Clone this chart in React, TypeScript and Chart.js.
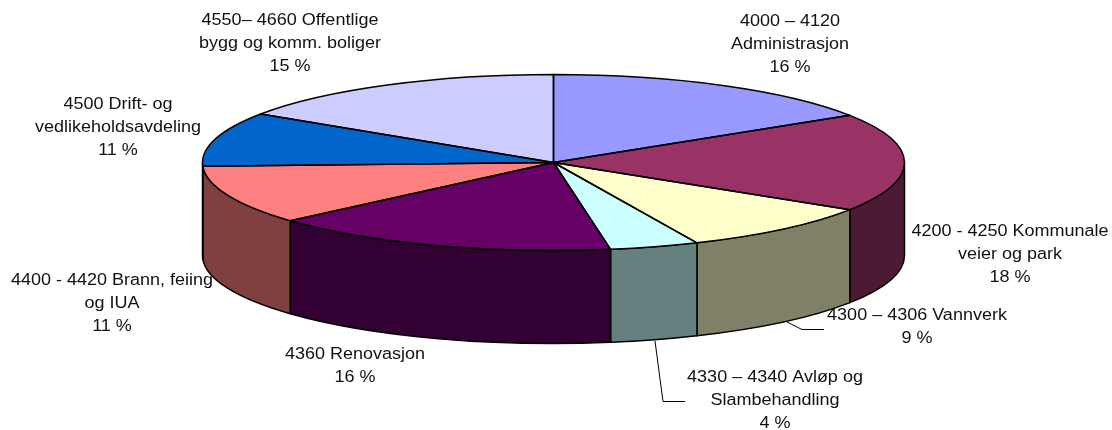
import React, { useEffect, useRef } from "react";
import { Chart, registerables } from "chart.js";

Chart.register(...registerables);

const categories = [
  "4000 – 4120 Administrasjon",
  "4200 - 4250 Kommunale veier og park",
  "4300 – 4306 Vannverk",
  "4330 – 4340 Avløp og Slambehandling",
  "4360 Renovasjon",
  "4400 - 4420 Brann, feiing og IUA",
  "4500 Drift- og vedlikeholdsavdeling",
  "4550– 4660 Offentlige bygg og komm. boliger",
];
const values = [16, 18, 9.3, 4.1, 16.1, 10.8, 10, 15.7];
const topColors = ["#9999FF", "#993366", "#FFFFCC", "#CCFFFF", "#660066", "#FF8080", "#0066CC", "#CCCCFF"];
const wallColors = ["#4D4D80", "#4D1A33", "#808066", "#668080", "#330033", "#804040", "#003366", "#666680"];
const labelLines = [
  ["4000 – 4120", "Administrasjon", "16 %"],
  ["4200 - 4250 Kommunale", "veier og park", "18 %"],
  ["4300 – 4306 Vannverk", "9 %"],
  ["4330 – 4340 Avløp og", "Slambehandling", "4 %"],
  ["4360 Renovasjon", "16 %"],
  ["4400 - 4420 Brann, feiing", "og IUA", "11 %"],
  ["4500 Drift- og", "vedlikeholdsavdeling", "11 %"],
  ["4550– 4660 Offentlige", "bygg og komm. boliger", "15 %"],
];
const labelCenterX = [790, 1010, 917, 775, 355, 112, 118, 290];
const labelFirstY = [22, 232, 316, 378, 355, 281, 105, 21];
const leaders = [
  [[787, 322], [802, 329.5], [824, 329.5]],
  [[655, 341], [663, 401.5], [685, 401.5]],
];

const CX = 553.5;
const CY = 162.5;
const RX = 351;
const RY = 88;
const DEPTH = 93;
const LINE_HEIGHT = 23;
const TEXT_STRETCH = 1.125;

const pie3d = {
  id: "pie3d",
  beforeDatasetsDraw(chart: any) {
    const ctx = chart.ctx;
    const arcs = chart.getDatasetMeta(0).data;
    arcs.forEach((arc: any, i: number) => {
      const a0 = Math.max(arc.startAngle, 0);
      const a1 = Math.min(arc.endAngle, Math.PI);
      if (a1 <= a0) return;
      ctx.beginPath();
      ctx.ellipse(CX, CY, RX, RY, 0, a0, a1);
      ctx.ellipse(CX, CY + DEPTH, RX, RY, 0, a1, a0, true);
      ctx.closePath();
      ctx.fillStyle = wallColors[i];
      ctx.fill();
      ctx.strokeStyle = "#000";
      ctx.lineWidth = 1.5;
      ctx.lineJoin = "round";
      ctx.stroke();
    });
    const first = arcs[0];
    ctx.save();
    ctx.translate(CX, CY);
    ctx.scale(RX / first.outerRadius, RY / first.outerRadius);
    ctx.translate(-first.x, -first.y);
  },
  afterDatasetsDraw(chart: any) {
    const ctx = chart.ctx;
    ctx.restore();
    const arcs = chart.getDatasetMeta(0).data;
    ctx.strokeStyle = "#000";
    ctx.lineWidth = 1.5;
    ctx.lineJoin = "round";
    arcs.forEach((arc: any) => {
      ctx.beginPath();
      ctx.moveTo(CX, CY);
      ctx.ellipse(CX, CY, RX, RY, 0, arc.startAngle, arc.endAngle);
      ctx.closePath();
      ctx.stroke();
    });
    ctx.lineWidth = 1;
    leaders.forEach((pts) => {
      ctx.beginPath();
      pts.forEach(([x, y], i) => (i ? ctx.lineTo(x, y) : ctx.moveTo(x, y)));
      ctx.stroke();
    });
    ctx.fillStyle = "#111";
    ctx.font = '16px "Liberation Sans"';
    ctx.textAlign = "center";
    ctx.textBaseline = "middle";
    labelLines.forEach((lines, i) => {
      lines.forEach((line, j) => {
        ctx.save();
        ctx.translate(labelCenterX[i], labelFirstY[i] + j * LINE_HEIGHT);
        ctx.scale(TEXT_STRETCH, 1);
        ctx.fillText(line, 0, 0);
        ctx.restore();
      });
    });
  },
};

export default function App() {
  const ref = useRef<HTMLCanvasElement>(null);
  useEffect(() => {
    document.body.style.margin = "0";
    const chart = new Chart(ref.current!, {
      type: "pie",
      data: {
        labels: categories,
        datasets: [{ data: values, backgroundColor: topColors, borderWidth: 0, clip: false } as any],
      },
      options: {
        animation: false,
        responsive: false,
        layout: { padding: 0 },
        plugins: { legend: { display: false }, tooltip: { enabled: false } },
      },
      plugins: [pie3d],
    });
    return () => chart.destroy();
  }, []);
  return <canvas ref={ref} width={1112} height={430} style={{ display: "block" }} />;
}
